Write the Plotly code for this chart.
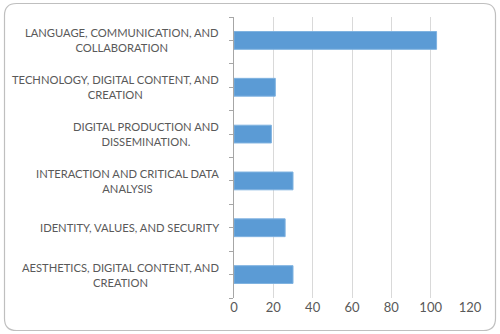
import plotly.graph_objects as go

categories = [
    "LANGUAGE, COMMUNICATION, AND<br>COLLABORATION",
    "TECHNOLOGY, DIGITAL CONTENT, AND<br>CREATION",
    "DIGITAL PRODUCTION AND<br>DISSEMINATION.",
    "INTERACTION AND CRITICAL DATA<br>ANALYSIS",
    "IDENTITY, VALUES, AND SECURITY",
    "AESTHETICS, DIGITAL CONTENT, AND<br>CREATION",
]
values = [103, 21, 19, 30, 26, 30]
x_ticks = [0, 20, 40, 60, 80, 100, 120]

W, H = 500, 334
L, R, T, B = 234, 30, 17, 36
pw, ph = W - L - R, H - T - B

idx = list(range(len(categories)))

fig = go.Figure(go.Bar(
    x=values, y=idx, orientation="h",
    marker=dict(color="#5B9BD5", line=dict(color="#7FB2E0", width=1)),
    width=0.38,
))

# tick positions at centers and boundaries
tv = [i * 0.5 - 0.5 for i in range(2 * len(categories) + 1)]

fig.update_layout(
    width=W, height=H,
    margin=dict(l=L, r=R, t=T, b=B),
    paper_bgcolor="white", plot_bgcolor="white",
    showlegend=False,
    font=dict(family="Lato, Open Sans, sans-serif", size=12, color="#595959"),
    xaxis=dict(
        range=[0, 120], tickvals=x_ticks, ticktext=[str(v) for v in x_ticks],
        showgrid=True, gridcolor="#D9D9D9", gridwidth=1,
        zeroline=False, showline=False, ticks="",
        tickfont=dict(size=13, color="#595959"),
    ),
    yaxis=dict(
        range=[len(categories) - 0.5, -0.5],
        tickvals=tv, ticktext=["" for _ in tv],
        showgrid=False, zeroline=False,
        showline=True, linecolor="#A6A6A6", linewidth=1,
        ticks="outside", ticklen=4, tickcolor="#A6A6A6",
        showticklabels=False,
    ),
    bargap=0.62,
)

annotations = []
for i, c in enumerate(categories):
    annotations.append(dict(
        x=-13 / pw, xref="paper", y=i, yref="y",
        text=c, showarrow=False, xanchor="right", yanchor="middle",
        align="center", font=dict(size=11.2, color="#595959"),
    ))
fig.update_layout(annotations=annotations)

# rounded chart border
def px2paper(px, py):
    return (px - L) / pw, (H - B - py) / ph

x0, y0, x1, y1, r = 4.5, 3.5, 495.5, 330.5, 12
def P(px, py):
    a, b = px2paper(px, py)
    return f"{a:.5f},{b:.5f}"
path = (
    f"M {P(x0 + r, y0)} L {P(x1 - r, y0)} Q {P(x1, y0)} {P(x1, y0 + r)} "
    f"L {P(x1, y1 - r)} Q {P(x1, y1)} {P(x1 - r, y1)} "
    f"L {P(x0 + r, y1)} Q {P(x0, y1)} {P(x0, y1 - r)} "
    f"L {P(x0, y0 + r)} Q {P(x0, y0)} {P(x0 + r, y0)} Z"
)
fig.add_shape(type="path", path=path, xref="paper", yref="paper",
              line=dict(color="#BFBFBF", width=1.2), layer="above")

fig.write_html("out.html")
